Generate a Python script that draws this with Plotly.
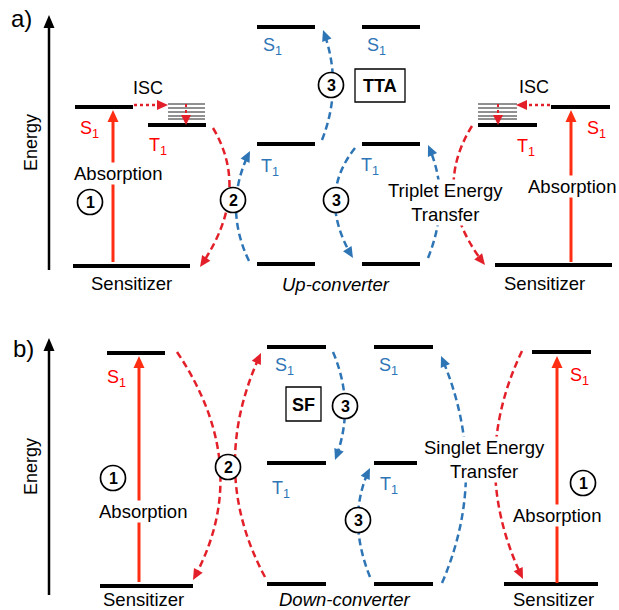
import math
import plotly.graph_objects as go

W, H = 619, 610

# ---------------- energy levels (thick black bars) ----------------
level_x0 = [75, 148, 73, 257, 257, 257, 362, 362, 362, 478, 551, 495,
            107, 100, 267, 267, 267, 374, 374, 374, 532, 504]
level_x1 = [133, 206, 190, 315, 315, 315, 420, 420, 420, 537, 610, 612,
            165, 193, 326, 326, 326, 433, 417, 433, 591, 598]
level_y = [107, 125, 266, 27, 144, 264, 27, 144, 264, 125, 107, 265,
           353, 586, 347, 463, 584, 347, 463, 584, 352, 584]

# vibrational sub-levels (thin lines)
vib_x0 = [168, 478]
vib_x1 = [205, 517]
vib_y = [104, 108, 112, 116, 119]

# ---------------- colours ----------------
RED = "#FF0000"
RED_D = "#E3202A"
ORANGE = "#FF2E12"
BLUE = "#2E75B6"

# ---------------- straight arrows ----------------
arr_x0 = [49, 49, 113, 571, 139, 557, 134, 550, 186, 498]
arr_y0 = [270, 595, 262, 262, 582, 583, 105, 105, 104, 104]
arr_x1 = [49, 49, 113, 571, 139, 557, 168, 516, 186, 498]
arr_y1 = [15, 338, 110, 110, 356, 356, 105, 105, 125, 125]
arr_col = ["black", "black", ORANGE, ORANGE, ORANGE, ORANGE, RED_D, RED_D, RED_D, RED_D]
arr_dash = ["solid"] * 6 + ["3px,3px"] * 4
arr_w = [2.5, 2.5, 3, 3, 3, 3, 2.5, 2.5, 2, 2]
arr_hl = [13, 13, 12, 12, 12, 12, 11, 11, 10, 10]
arr_hw = [11, 11, 11, 11, 11, 11, 10, 10, 10, 10]

# ---------------- curved dashed arrows (quadratic) ----------------
crv_p0 = [(213, 128), (249, 261), (322, 140), (355, 148), (428, 258), (472, 126),
          (177, 352), (265, 577), (333, 352), (370, 577), (442, 583), (522, 351)]
crv_mid = [(229, 195), (236, 206), (333, 85), (335, 200), (440, 200), (454, 195),
           (220, 467), (235, 467), (345, 406), (358, 520), (466, 470), (495, 465)]
crv_p2 = [(200, 267), (250, 151), (323, 30), (353, 258), (428, 145), (485, 265),
          (193, 580), (261, 353), (335, 460), (370, 468), (441, 356), (523, 579)]
crv_col = [RED_D, BLUE, BLUE, BLUE, BLUE, RED_D, RED_D, RED_D, BLUE, BLUE, BLUE, RED_D]

# ---------------- numbered circles ----------------
circ_x = [90, 233, 331, 336, 113, 228, 345, 358, 583]
circ_y = [202, 200, 85, 200, 478, 467, 406, 520, 483]
circ_n = ["1", "2", "3", "3", "1", "2", "3", "3", "1"]

# ---------------- boxes ----------------
box_x0 = [355, 286]
box_x1 = [405, 321]
box_y0 = [69, 387]
box_y1 = [102, 421]
box_txt = ["TTA", "SF"]

# ---------------- text labels ----------------
lab_txt = ["a)", "b)", "Energy", "Energy", "ISC", "ISC",
           "S<sub>1</sub>", "S<sub>1</sub>", "S<sub>1</sub>", "S<sub>1</sub>",
           "T<sub>1</sub>", "T<sub>1</sub>",
           "S<sub>1</sub>", "S<sub>1</sub>", "S<sub>1</sub>", "S<sub>1</sub>",
           "T<sub>1</sub>", "T<sub>1</sub>", "T<sub>1</sub>", "T<sub>1</sub>",
           "Sensitizer", "Sensitizer", "Sensitizer", "Sensitizer",
           "<i>Up-converter</i>", "<i>Down-converter</i>"]
lab_x = [21, 23, 31, 31, 148, 534,
         89, 596, 116, 579,
         158, 526,
         272, 376, 284, 388,
         270, 370, 281, 389,
         131, 544, 143, 553,
         336, 344]
lab_y = [18, 348, 143, 467, 88, 87,
         129, 129, 378, 376,
         146, 147,
         46, 46, 366, 366,
         167, 166, 489, 485,
         283, 283, 599, 599,
         284, 599]
lab_col = ["black", "black", "black", "black", "black", "black",
           RED, RED, RED, RED, RED, RED,
           BLUE, BLUE, BLUE, BLUE, BLUE, BLUE, BLUE, BLUE,
           "black", "black", "black", "black", "black", "black"]
lab_size = [24, 24, 18, 18, 18, 18] + [18] * 14 + [18.5] * 6
lab_ang = [0, 0, -90, -90] + [0] * 22

# labels with white background covering lines
bg_txt = ["Absorption", "Absorption", "Absorption", "Absorption",
          "Triplet Energy<br>Transfer", "Singlet Energy<br>Transfer"]
bg_x = [118, 572, 143, 557, 445, 484]
bg_y = [173, 186, 511, 515, 202, 459]

FONT = "Liberation Sans, Arial, sans-serif"

shapes = []
annotations = []


def head(tip, frm, L, Wd, color):
    dx, dy = tip[0] - frm[0], tip[1] - frm[1]
    n = math.hypot(dx, dy)
    ux, uy = dx / n, dy / n
    bx, by = tip[0] - ux * L, tip[1] - uy * L
    px, py = -uy, ux
    p = (f"M {tip[0]},{tip[1]} L {bx + px * Wd / 2},{by + py * Wd / 2} "
         f"L {bx - px * Wd / 2},{by - py * Wd / 2} Z")
    shapes.append(dict(type="path", path=p, fillcolor=color, line=dict(width=0),
                       xref="x", yref="y", layer="above"))


# levels
for x0, x1, y in zip(level_x0, level_x1, level_y):
    shapes.append(dict(type="line", x0=x0, x1=x1, y0=y, y1=y, xref="x", yref="y",
                       line=dict(color="black", width=4)))
for vx0, vx1 in zip(vib_x0, vib_x1):
    for vy in vib_y:
        shapes.append(dict(type="line", x0=vx0, x1=vx1, y0=vy, y1=vy, xref="x", yref="y",
                           line=dict(color="#222222", width=1)))

# straight arrows
for x0, y0, x1, y1, c, d, w, hl, hw in zip(arr_x0, arr_y0, arr_x1, arr_y1, arr_col,
                                            arr_dash, arr_w, arr_hl, arr_hw):
    dx, dy = x1 - x0, y1 - y0
    n = math.hypot(dx, dy)
    ex, ey = x1 - dx / n * hl * 0.8, y1 - dy / n * hl * 0.8
    shapes.append(dict(type="line", x0=x0, y0=y0, x1=ex, y1=ey, xref="x", yref="y",
                       line=dict(color=c, width=w, dash=d)))
    head((x1, y1), (x0, y0), hl, hw, c)

# curved arrows
for p0, m, p2, c in zip(crv_p0, crv_mid, crv_p2, crv_col):
    p1 = (2 * m[0] - 0.5 * (p0[0] + p2[0]), 2 * m[1] - 0.5 * (p0[1] + p2[1]))

    def q(t):
        return ((1 - t) ** 2 * p0[0] + 2 * (1 - t) * t * p1[0] + t * t * p2[0],
                (1 - t) ** 2 * p0[1] + 2 * (1 - t) * t * p1[1] + t * t * p2[1])

    t = 1.0
    while t > 0.5 and math.hypot(q(t)[0] - p2[0], q(t)[1] - p2[1]) < 7:
        t -= 0.005
    c1 = (p0[0] + t * (p1[0] - p0[0]), p0[1] + t * (p1[1] - p0[1]))
    e = q(t)
    shapes.append(dict(type="path", xref="x", yref="y",
                       path=f"M {p0[0]},{p0[1]} Q {c1[0]},{c1[1]} {e[0]},{e[1]}",
                       line=dict(color=c, width=2.5, dash="7px,4px")))
    head(p2, p1, 11, 10, c)

# circles
for cx, cy, num in zip(circ_x, circ_y, circ_n):
    shapes.append(dict(type="circle", xref="x", yref="y", x0=cx - 12.5, x1=cx + 12.5,
                       y0=cy - 12.5, y1=cy + 12.5, fillcolor="white",
                       line=dict(color="black", width=1.7), layer="above"))
    annotations.append(dict(x=cx, y=cy + 0.5, text=f"<b>{num}</b>", showarrow=False,
                            xref="x", yref="y",
                            font=dict(family=FONT, size=16, color="black")))

# boxes
for x0, x1, y0, y1, t in zip(box_x0, box_x1, box_y0, box_y1, box_txt):
    shapes.append(dict(type="rect", xref="x", yref="y", x0=x0, x1=x1, y0=y0, y1=y1,
                       fillcolor="white", line=dict(color="black", width=1.3),
                       layer="above"))
    annotations.append(dict(x=(x0 + x1) / 2, y=(y0 + y1) / 2 + 0.5, text=f"<b>{t}</b>",
                            showarrow=False, xref="x", yref="y",
                            font=dict(family=FONT, size=18, color="black")))

# labels
for t, x, y, c, s, a in zip(lab_txt, lab_x, lab_y, lab_col, lab_size, lab_ang):
    annotations.append(dict(x=x, y=y, text=t, showarrow=False, xref="x", yref="y",
                            textangle=a, font=dict(family=FONT, size=s, color=c)))
for t, x, y in zip(bg_txt, bg_x, bg_y):
    annotations.append(dict(x=x, y=y, text=t, showarrow=False, xref="x", yref="y",
                            bgcolor="white", borderpad=0,
                            font=dict(family=FONT, size=18.5, color="black")))

fig = go.Figure()
fig.update_layout(
    width=W, height=H, margin=dict(l=0, r=0, t=0, b=0),
    paper_bgcolor="white", plot_bgcolor="white",
    xaxis=dict(range=[0, W], visible=False, fixedrange=True),
    yaxis=dict(range=[H, 0], visible=False, fixedrange=True),
    shapes=shapes, annotations=annotations, showlegend=False,
)
fig.write_html("out.html", config={"displayModeBar": False},
               post_script="document.body.style.margin='0';"
                           "document.body.style.overflow='hidden';")
